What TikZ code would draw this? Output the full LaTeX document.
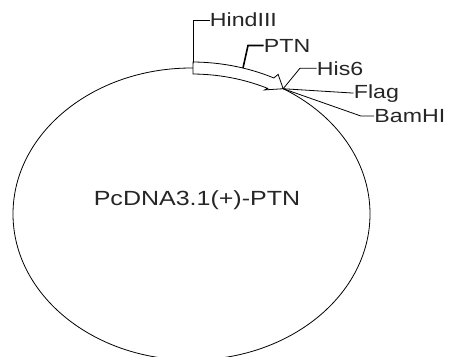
\documentclass[tikz,border=0pt]{standalone}
\usepackage{fontspec}
\usepackage{graphicx}
\usetikzlibrary{calc}
\newfontfamily\arialf{Liberation Sans}
\newcommand{\hstr}[1]{\scalebox{1.22}[1]{#1}}
\begin{document}
\begin{tikzpicture}[x=1pt,y=-1pt,line width=0.8pt,
  lbl/.style={font=\arialf\fontsize{19}{21}\selectfont, text=black!85, inner sep=0pt, anchor=base west},
  mainlbl/.style={font=\arialf\fontsize{20.5}{23}\selectfont, text=black!85, inner sep=0pt, anchor=base},
  lead/.style={draw=black, line width=0.8pt},
  band/.style={draw=black, fill=white, line width=0.8pt, line join=miter}]
\useasboundingbox (0,0) rectangle (452,356);
\fill[white] (0,0) rectangle (452,356);
\begin{scope}
\clip (0,0) rectangle (452,356);
\draw (191.5,214) ellipse [x radius=178.5, y radius=146];
\end{scope}
% gene arrow band
\draw[band] plot[domain=89.5:63.5,samples=40] ({191.5+184.5*cos(\x)},{214-152*sin(\x)})
  -- ({191.5+189.5*cos(62.8)},{214-157*sin(62.8)})
  -- ({191.5+178.5*cos(59.1)},{214-146*sin(59.1)})
  -- ({191.5+170*cos(64.5)},{214-137.5*sin(64.5)})
  -- plot[domain=63.8:89.5,samples=40] ({191.5+172.5*cos(\x)},{214-140*sin(\x)})
  -- cycle;
\coordinate (hb) at (193,62);
\coordinate (pb) at (243,68);
\coordinate (tip) at ({191.5+178.5*cos(59.1)},{214-146*sin(59.1)});
% labels
\node[lbl] (hind) at (209.5,27) {\hstr{HindIII}};
\node[lbl] (ptn) at (263.5,52) {\hstr{PTN}};
\node[lbl] (his) at (316.5,75) {\hstr{His6}};
\node[lbl] (flag) at (353.5,98) {\hstr{Flag}};
\node[lbl] (bam) at (374,122.5) {\hstr{BamHI}};
\node[mainlbl] (plasmid) at (197,205) {\hstr{PcDNA3.1(+)-PTN}};
% leaders
\draw[lead] (hb) |- (hind.west);
\draw[lead, line width=1.6pt] (pb) -- ($(pb |- ptn.west)+(5,0)$) -- (ptn.west);
\draw[lead] (tip) -- ($(his.west)+(-16.5,0)$) -- (his.west);
\draw[lead] (tip) -- (flag.west);
\draw[lead] (tip) -- ($(bam.west)+(-13,0)$) -- (bam.west);
\end{tikzpicture}
\end{document}
